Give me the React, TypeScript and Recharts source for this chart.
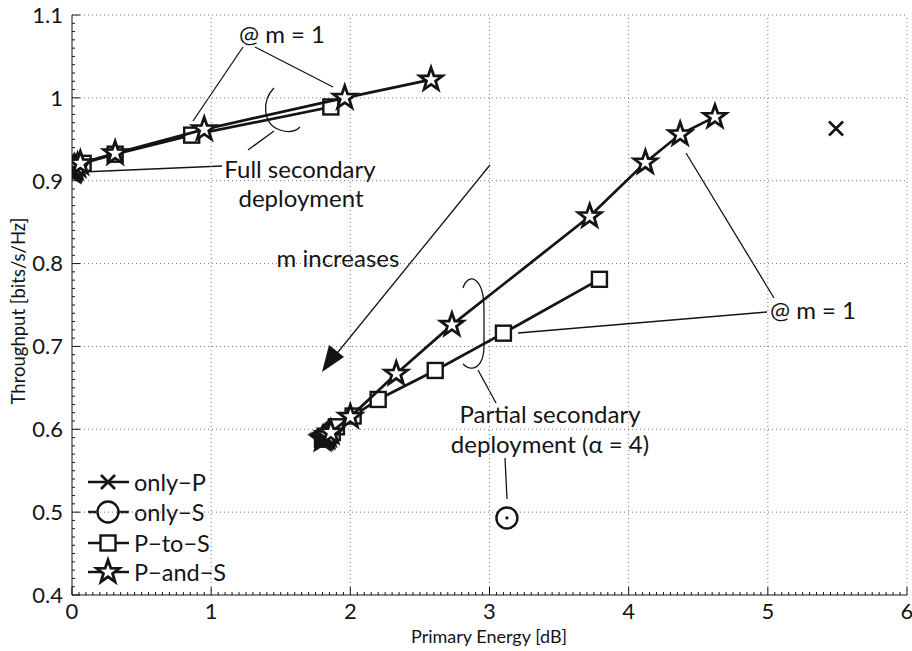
import { ScatterChart, Scatter, XAxis, YAxis, ReferenceLine, Customized } from "recharts"

// Full secondary deployment (upper-left branch)
const fullPtoSEnergy = [0, 0.004, 0.008, 0.012, 0.02, 0.03, 0.08, 0.31, 0.86, 1.86]
const fullPtoSThroughput = [0.912, 0.913, 0.914, 0.915, 0.916, 0.918, 0.921, 0.932, 0.955, 0.989]
const fullPandSEnergy = [0, 0.003, 0.006, 0.01, 0.015, 0.02, 0.04, 0.06, 0.31, 0.95, 1.96, 2.58]
const fullPandSThroughput = [0.911, 0.912, 0.913, 0.914, 0.915, 0.916, 0.918, 0.921, 0.933, 0.962, 1.0, 1.022]

// Partial secondary deployment (alpha = 4)
const partPtoSEnergy = [1.8, 1.81, 1.82, 1.83, 1.85, 1.87, 1.9, 2.02, 2.2, 2.61, 3.1, 3.79]
const partPtoSThroughput = [0.588, 0.589, 0.59, 0.591, 0.593, 0.596, 0.603, 0.616, 0.636, 0.671, 0.716, 0.781]
const partPandSEnergy = [1.8, 1.81, 1.82, 1.83, 1.84, 1.86, 2.0, 2.33, 2.73, 3.72, 4.12, 4.37, 4.62]
const partPandSThroughput = [0.588, 0.589, 0.59, 0.591, 0.593, 0.596, 0.615, 0.667, 0.726, 0.857, 0.922, 0.956, 0.977]

// Stand-alone schemes
const onlyPEnergy = [5.49]
const onlyPThroughput = [0.963]
const onlySEnergy = [3.125]
const onlySThroughput = [0.493]

const xTickLabels = [0, 1, 2, 3, 4, 5, 6]
const yTickLabels = [0.4, 0.5, 0.6, 0.7, 0.8, 0.9, 1, 1.1]
const legendNames = ["only\u2212P", "only\u2212S", "P\u2212to\u2212S", "P\u2212and\u2212S"]

const zip = (xs: number[], ys: number[]) => xs.map((x, i) => ({ x, y: ys[i] }))

const W = 912
const H = 651
const LEFT = 72
const RIGHT = 907
const TOP = 15
const BOTTOM = 595
const INK = "#141414"
const FONT = "Lato, 'Open Sans', sans-serif"

const xMinor = Array.from({ length: 121 }, (_, i) => Math.round(i * 5) / 100)
const yMinor = Array.from({ length: 71 }, (_, i) => Math.round(40 + i) / 100)
const isMajor = (v: number, list: number[]) => list.some((t) => Math.abs(t - v) < 1e-6)

function starPath(cx: number, cy: number, R: number, r: number) {
  let d = ""
  for (let i = 0; i < 10; i++) {
    const rad = i % 2 === 0 ? R : r
    const a = -Math.PI / 2 + (i * Math.PI) / 5
    d += (i ? "L" : "M") + (cx + rad * Math.cos(a)).toFixed(2) + "," + (cy + rad * Math.sin(a)).toFixed(2)
  }
  return d + "Z"
}

function StarMark({ cx, cy }: any) {
  return <path d={starPath(cx, cy, 12, 4.8)} fill="#fff" stroke={INK} strokeWidth={2.8} strokeLinejoin="miter" />
}
function SquareMark({ cx, cy }: any) {
  return <rect x={cx - 7.5} y={cy - 7.5} width={15} height={15} fill="#fff" stroke={INK} strokeWidth={2.4} />
}
function CircleMark({ cx, cy, dot = true }: any) {
  return (
    <g>
      <circle cx={cx} cy={cy} r={10.5} fill="#fff" stroke={INK} strokeWidth={2.4} />
      {dot && <circle cx={cx} cy={cy} r={1.6} fill={INK} />}
    </g>
  )
}
function CrossMark({ cx, cy }: any) {
  const s = 7
  return (
    <g stroke={INK} strokeWidth={2.6}>
      <line x1={cx - s} y1={cy - s} x2={cx + s} y2={cy + s} />
      <line x1={cx - s} y1={cy + s} x2={cx + s} y2={cy - s} />
    </g>
  )
}

function XTick({ x, y, payload }: any) {
  const major = isMajor(payload.value, xTickLabels)
  return (
    <g>
      <line x1={x} y1={y} x2={x} y2={y - (major ? 8 : 3)} stroke={INK} strokeWidth={1} />
      {major && (
        <text x={x} y={y + 24} textAnchor="middle" fontSize={22} fontFamily={FONT} fill={INK}>
          {payload.value}
        </text>
      )}
    </g>
  )
}

function YTick({ x, y, payload }: any) {
  const major = isMajor(payload.value, yTickLabels)
  return (
    <g>
      <line x1={x} y1={y} x2={x + (major ? 8 : 3)} y2={y} stroke={INK} strokeWidth={1} />
      {major && (
        <text x={x - 9} y={y} dy="0.36em" textAnchor="end" fontSize={22} fontFamily={FONT} fill={INK}>
          {payload.value}
        </text>
      )}
    </g>
  )
}

const legendMarks = [CrossMark, CircleMark, SquareMark, StarMark]
const legendRows = [482, 512, 543, 572]

function Annotations() {
  const t = { fontFamily: FONT, fontSize: 24, fill: INK, textAnchor: "middle" as const, dominantBaseline: "central" as const }
  const thin = { stroke: INK, strokeWidth: 1.3, fill: "none" }
  return (
    <g>
      {/* callouts, upper branch */}
      <text x={282} y={33} {...t}>@ m = 1</text>
      <line x1={243} y1={47} x2={193} y2={121} {...thin} />
      <line x1={255} y1={47} x2={333} y2={87} {...thin} />
      <path d="M274,88 C262,100 262,124 280,130 C289,133 296,131 300,127" {...thin} />
      <line x1={274} y1={131} x2={248} y2={150} {...thin} />
      <line x1={222} y1={166} x2={82} y2={172} {...thin} />
      <text x={300} y={168} {...t}>Full secondary</text>
      <text x={301} y={197} {...t}>deployment</text>

      {/* m increases arrow */}
      <text x={338} y={257} {...t}>m increases</text>
      <line x1={490} y1={165} x2={334} y2={357} {...thin} />
      <path d="M322,372 L329,345 L344,357 Z" fill={INK} />

      {/* callouts, lower branch */}
      <line x1={686} y1={153} x2={774} y2={298} {...thin} />
      <line x1={767} y1={312} x2={518} y2={333} {...thin} />
      <text x={813} y={309} {...t}>@ m = 1</text>
      <path d="M463,288 C468,272 484,276 484,310 L484,345 C484,370 470,372 463,364" {...thin} />
      <line x1={478} y1={370} x2={496} y2={403} {...thin} />
      <text x={550} y={413} {...t}>Partial secondary</text>
      <text x={550} y={443} {...t}>deployment (α = 4)</text>
      <line x1={505} y1={458} x2={507} y2={499} {...thin} />

      {/* axis titles */}
      <text x={489} y={636} {...t} fontSize={18}>Primary Energy [dB]</text>
      <text x={18} y={311} {...t} fontSize={18.5} transform="rotate(-90 18 311)">Throughput [bits/s/Hz]</text>

      {/* legend */}
      {legendNames.map((name, i) => {
        const Mark = legendMarks[i]
        const cy = legendRows[i]
        return (
          <g key={name}>
            <line x1={88} y1={cy} x2={129} y2={cy} stroke={INK} strokeWidth={2.4} />
            <Mark cx={108} cy={cy} dot={false} />
            <text x={134} y={cy} fontFamily={FONT} fontSize={23.5} fill={INK} dominantBaseline="central">{name}</text>
          </g>
        )
      })}
    </g>
  )
}

const seriesLine = { stroke: INK, strokeWidth: 2.7 }
const grid = { stroke: "#7a7a7a", strokeWidth: 1, strokeDasharray: "1 3" }

export default function App() {
  return (
    <div style={{ position: "absolute", left: 0, top: 0, width: W, height: H, background: "#fff" }}>
      <ScatterChart width={W} height={H} margin={{ top: TOP, right: W - RIGHT, bottom: 26, left: 12 }}>
        <XAxis
          type="number"
          dataKey="x"
          domain={[0, 6]}
          ticks={xMinor}
          interval={0}
          height={H - BOTTOM - 26}
          tickSize={0}
          tickMargin={0}
          tickLine={false}
          axisLine={{ stroke: INK, strokeWidth: 1 }}
          tick={<XTick />}
          allowDataOverflow
        />
        <YAxis
          type="number"
          dataKey="y"
          domain={[0.4, 1.1]}
          ticks={yMinor}
          interval={0}
          width={LEFT - 12}
          tickSize={0}
          tickMargin={0}
          tickLine={false}
          axisLine={{ stroke: INK, strokeWidth: 1 }}
          tick={<YTick />}
          allowDataOverflow
        />
        {xTickLabels.slice(1).map((v) => (
          <ReferenceLine key={"gx" + v} x={v} {...grid} />
        ))}
        {yTickLabels.slice(1).map((v) => (
          <ReferenceLine key={"gy" + v} y={v} {...grid} />
        ))}
        <Scatter data={zip(fullPtoSEnergy, fullPtoSThroughput)} line={seriesLine} lineType="joint" shape={(p: any) => <SquareMark {...p} />} isAnimationActive={false} />
        <Scatter data={zip(fullPandSEnergy, fullPandSThroughput)} line={seriesLine} lineType="joint" shape={(p: any) => <StarMark {...p} />} isAnimationActive={false} />
        <Scatter data={zip(partPtoSEnergy, partPtoSThroughput)} line={seriesLine} lineType="joint" shape={(p: any) => <SquareMark {...p} />} isAnimationActive={false} />
        <Scatter data={zip(partPandSEnergy, partPandSThroughput)} line={seriesLine} lineType="joint" shape={(p: any) => <StarMark {...p} />} isAnimationActive={false} />
        <Scatter data={zip(onlyPEnergy, onlyPThroughput)} shape={(p: any) => <CrossMark {...p} />} isAnimationActive={false} />
        <Scatter data={zip(onlySEnergy, onlySThroughput)} shape={(p: any) => <CircleMark {...p} />} isAnimationActive={false} />
        <Customized component={Annotations} />
      </ScatterChart>
    </div>
  )
}
